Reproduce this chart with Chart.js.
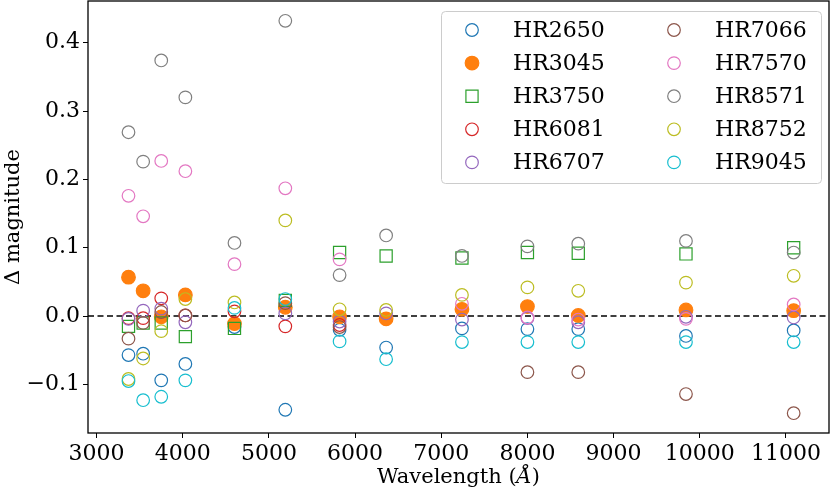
<!DOCTYPE html>
<html>
<head>
<meta charset="utf-8">
<script src="https://cdn.jsdelivr.net/npm/chart.js@4.4.1/dist/chart.umd.min.js"></script>
<style>
  html, body { margin: 0; padding: 0; background: #fff; }
  #wrap { width: 830px; height: 492px; }
</style>
</head>
<body>
<div id="wrap"><canvas id="deltaChart" width="830" height="492"></canvas></div>
<script>
// filter wavelengths (Angstrom)
const wavelengths = [3370, 3540, 3750, 4030, 4600, 5190, 5820, 6360, 7240, 8000, 8590, 9840, 11090];

// delta magnitude per star, one value per wavelength (null = no point)
const hr2650 = [-0.057, -0.055, -0.094, -0.070, -0.016, -0.137, -0.020, -0.046, -0.018, -0.019, -0.019, -0.029, -0.021];
const hr3045 = [0.057, 0.037, -0.001, 0.031, -0.011, 0.013, -0.001, -0.004, 0.010, 0.014, 0.001, 0.009, 0.008];
const hr3750 = [-0.015, -0.010, -0.010, -0.030, -0.018, 0.023, 0.093, 0.088, 0.085, 0.093, 0.092, 0.091, 0.100];
const hr6081 = [-0.003, -0.003, 0.026, 0.001, 0.007, -0.015, -0.013, null, null, null, null, null, null];
const hr6707 = [-0.004, 0.008, 0.011, -0.009, null, 0.004, -0.008, 0.004, -0.005, -0.003, -0.009, -0.001, -0.002];
const hr7066 = [-0.033, -0.010, 0.006, 0.001, null, 0.019, -0.016, null, null, -0.082, -0.082, -0.114, -0.142];
const hr7570 = [0.176, 0.146, 0.227, 0.212, 0.076, 0.187, 0.083, null, 0.018, -0.002, -0.005, -0.004, 0.017];
const hr8571 = [0.269, 0.226, 0.374, 0.320, 0.107, 0.432, 0.060, 0.118, 0.088, 0.102, 0.106, 0.110, 0.093];
const hr8752 = [-0.092, -0.062, -0.022, 0.025, 0.020, 0.140, 0.010, 0.009, 0.031, 0.042, 0.037, 0.049, 0.059];
const hr9045 = [-0.095, -0.123, -0.118, -0.094, 0.012, 0.025, -0.037, -0.063, -0.038, -0.038, -0.038, -0.038, -0.038];

const starNames = ['HR2650', 'HR3045', 'HR3750', 'HR6081', 'HR6707', 'HR7066', 'HR7570', 'HR8571', 'HR8752', 'HR9045'];
const starValues = [hr2650, hr3045, hr3750, hr6081, hr6707, hr7066, hr7570, hr8571, hr8752, hr9045];

const xTicks = [3000, 4000, 5000, 6000, 7000, 8000, 9000, 10000, 11000];
const yTicks = [-0.1, 0.0, 0.1, 0.2, 0.3, 0.4];
const xRange = [2900, 11500];
const yRange = [-0.171, 0.461];
const zeroLevel = 0;

const colors = ['#1f77b4', '#ff7f0e', '#2ca02c', '#d62728', '#9467bd',
                '#8c564b', '#e377c2', '#7f7f7f', '#bcbd22', '#17becf'];
const serif = '"DejaVu Serif", "Liberation Serif", serif';

const datasets = starNames.map((name, i) => {
    const filled = name === 'HR3045';
    const square = name === 'HR3750';
    return {
        label: name,
        data: wavelengths.map((w, j) => ({ x: w, y: starValues[i][j] })),
        pointStyle: square ? 'rect' : 'circle',
        pointRadius: square ? 8.6 : (filled ? 6.8 : 6.3),
        pointHoverRadius: square ? 8.6 : (filled ? 6.8 : 6.3),
        borderWidth: 1.2,
        borderColor: colors[i],
        backgroundColor: filled ? colors[i] : 'rgba(0,0,0,0)',
        order: 20 - i
    };
});

datasets.push({
    label: '',
    type: 'line',
    data: xRange.map(x => ({ x: x, y: zeroLevel })),
    borderColor: '#000',
    borderWidth: 1.5,
    borderDash: [6, 3.5],
    pointRadius: 0,
    showLine: true,
    order: 100
});

// box around the whole plot (matplotlib spines) and the x title with italic Å
const frame = {
    id: 'frame',
    afterDraw(chart) {
        const { ctx, chartArea: a } = chart;
        ctx.save();
        ctx.strokeStyle = '#000';
        ctx.lineWidth = 1.3;
        ctx.strokeRect(a.left, a.top, a.right - a.left, a.bottom - a.top);

        const parts = [['Wavelength (', ''], ['Å', 'italic '], [')', '']];
        const widths = parts.map(p => { ctx.font = p[1] + '21px ' + serif; return ctx.measureText(p[0]).width; });
        let x = (a.left + a.right) / 2 - widths.reduce((s, w) => s + w, 0) / 2;
        ctx.fillStyle = '#000';
        ctx.textBaseline = 'middle';
        ctx.textAlign = 'left';
        parts.forEach((p, i) => {
            ctx.font = p[1] + '21px ' + serif;
            ctx.fillText(p[0], x, 478);
            x += widths[i];
        });
        ctx.restore();
    }
};

// two column legend in the top right corner
const insideLegend = {
    id: 'insideLegend',
    afterDraw(chart) {
        const ctx = chart.ctx;
        const sets = chart.data.datasets.filter(d => d.label);
        const rows = 5;
        ctx.save();
        ctx.beginPath();
        ctx.roundRect(441.5, 11.5, 380, 172, 4);
        ctx.fillStyle = 'rgba(255,255,255,0.8)';
        ctx.fill();
        ctx.strokeStyle = '#cccccc';
        ctx.lineWidth = 1;
        ctx.stroke();

        sets.forEach((ds, i) => {
            const col = Math.floor(i / rows);
            const row = i % rows;
            const mx = 472 + col * 202;
            const my = 30 + row * 33.1;
            ctx.beginPath();
            if (ds.pointStyle === 'rect') {
                const s = Math.SQRT1_2 * ds.pointRadius;
                ctx.rect(mx - s, my - s, 2 * s, 2 * s);
            } else {
                ctx.arc(mx, my, ds.pointRadius, 0, Math.PI * 2);
            }
            ctx.fillStyle = ds.backgroundColor;
            ctx.fill();
            ctx.strokeStyle = ds.borderColor;
            ctx.lineWidth = ds.borderWidth;
            ctx.stroke();

            ctx.fillStyle = '#000';
            ctx.font = '22px ' + serif;
            ctx.textBaseline = 'middle';
            ctx.textAlign = 'left';
            ctx.fillText(ds.label, mx + 41, my + 1);
        });
        ctx.restore();
    }
};

function fmtY(v) {
    if (Math.abs(v) < 1e-9) return '0.0';
    return v.toFixed(1).replace('-', '\u2212');
}

function noEdgePadding(s) {
    s.paddingTop = 0;
    s.paddingBottom = 0;
    s.paddingLeft = 0;
    s.paddingRight = 0;
}

new Chart(document.getElementById('deltaChart'), {
    type: 'scatter',
    data: { datasets: datasets },
    options: {
        responsive: false,
        animation: false,
        events: [],
        layout: { autoPadding: false, padding: { left: 0, top: 1, right: 1, bottom: 0 } },
        plugins: {
            legend: { display: false },
            tooltip: { enabled: false }
        },
        scales: {
            x: {
                type: 'linear',
                min: xRange[0],
                max: xRange[1],
                afterFit: s => { s.height = 59; noEdgePadding(s); },
                afterBuildTicks: s => { s.ticks = xTicks.map(v => ({ value: v })); },
                border: { display: false },
                grid: { drawOnChartArea: false, drawTicks: true, tickLength: 5, color: '#000', lineWidth: 1 },
                ticks: {
                    autoSkip: false,
                    maxRotation: 0,
                    padding: 3,
                    color: '#000',
                    font: { family: serif, size: 22 },
                    callback: v => String(Math.round(v))
                },
                title: { display: false }
            },
            y: {
                type: 'linear',
                min: yRange[0],
                max: yRange[1],
                afterFit: s => { s.width = 88; noEdgePadding(s); },
                afterBuildTicks: s => { s.ticks = yTicks.map(v => ({ value: v })); },
                border: { display: false },
                grid: { drawOnChartArea: false, drawTicks: true, tickLength: 5, color: '#000', lineWidth: 1 },
                ticks: {
                    padding: 3,
                    color: '#000',
                    font: { family: serif, size: 22 },
                    callback: v => fmtY(v)
                },
                title: {
                    display: true,
                    text: '\u0394 magnitude',
                    color: '#000',
                    font: { family: serif, size: 21 },
                    padding: { top: 1, bottom: 0 }
                }
            }
        }
    },
    plugins: [frame, insideLegend]
});
</script>
</body>
</html>
